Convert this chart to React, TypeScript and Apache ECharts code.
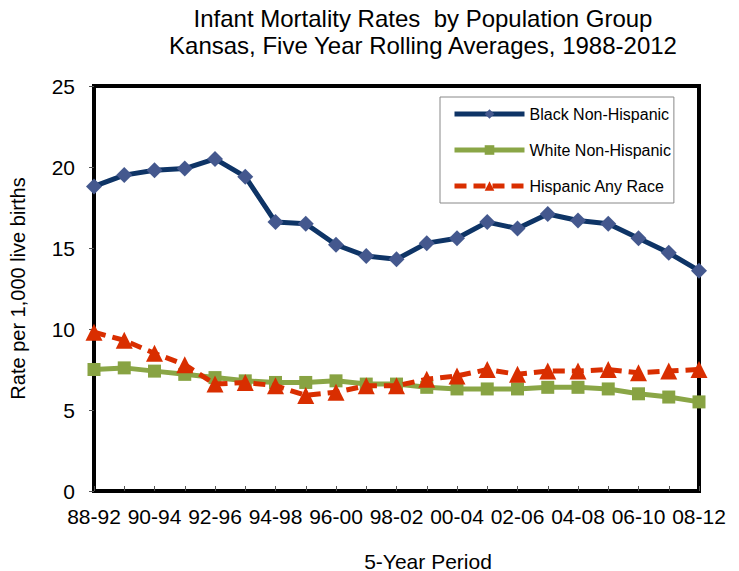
import React, { useEffect, useRef } from "react";
import * as echarts from "echarts";

const categories = [
  "88-92", "89-93", "90-94", "91-95", "92-96", "93-97", "94-98", "95-99", "96-00", "97-01",
  "98-02", "99-03", "00-04", "01-05", "02-06", "03-07", "04-08", "05-09", "06-10", "07-11", "08-12",
];
const blackNonHispanic = [18.8, 19.5, 19.8, 19.9, 20.5, 19.4, 16.6, 16.5, 15.2, 14.5, 14.3, 15.3, 15.6, 16.6, 16.2, 17.1, 16.7, 16.5, 15.6, 14.7, 13.6];
const whiteNonHispanic = [7.5, 7.6, 7.4, 7.2, 7.0, 6.8, 6.7, 6.7, 6.8, 6.6, 6.6, 6.4, 6.3, 6.3, 6.3, 6.4, 6.4, 6.3, 6.0, 5.8, 5.5];
const hispanicAnyRace = [9.8, 9.3, 8.5, 7.8, 6.6, 6.7, 6.5, 5.9, 6.1, 6.5, 6.5, 6.9, 7.1, 7.5, 7.2, 7.4, 7.4, 7.5, 7.3, 7.4, 7.5];
const seriesNames = ["Black Non-Hispanic", "White Non-Hispanic", "Hispanic Any Race"];
const titleLines = ["Infant Mortality Rates  by Population Group", "Kansas, Five Year Rolling Averages, 1988-2012"];
const yAxisName = "Rate per 1,000 live births";
const xAxisName = "5-Year Period";

const FONT = "'Liberation Sans', Arial, sans-serif";

export default function App() {
  const ref = useRef<HTMLDivElement>(null);
  useEffect(() => {
    if (!ref.current) return;
    const chart = echarts.init(ref.current, undefined, { renderer: "svg" });
    chart.setOption({
      animation: false,
      backgroundColor: "#ffffff",
      textStyle: { fontFamily: FONT },
      title: {
        text: titleLines.join("\n"),
        left: 423,
        top: 5,
        padding: 0,
        textAlign: "center",
        textStyle: { fontFamily: FONT, fontSize: 24, fontWeight: "normal", color: "#000", lineHeight: 27 },
      },
      legend: {
        orient: "vertical",
        left: 440,
        top: 97,
        padding: [9, 3, 9, 12],
        itemWidth: 70,
        itemHeight: 12,
        itemGap: 20,
        borderColor: "#888",
        borderWidth: 1,
        backgroundColor: "#fff",
        lineStyle: { width: 5 },
        textStyle: { fontFamily: FONT, fontSize: 16, color: "#000", lineHeight: 13 },
        data: seriesNames,
      },
      grid: {
        left: 92,
        right: 40,
        top: 86,
        bottom: 80,
        show: true,
        borderColor: "#000",
        borderWidth: 4,
        backgroundColor: "transparent",
      },
      xAxis: {
        type: "category",
        data: categories,
        boundaryGap: false,
        axisLine: { show: true, lineStyle: { color: "#000", width: 4 } },
        axisTick: { show: true, interval: 0, inside: true, length: 5, lineStyle: { color: "#555", width: 1 } },
        axisLabel: { interval: 1, fontSize: 21, color: "#000", margin: 15, fontFamily: FONT },
        splitLine: { show: false },
      },
      yAxis: {
        type: "value",
        min: 0,
        max: 25,
        interval: 5,
        name: yAxisName,
        nameLocation: "middle",
        nameGap: 66,
        nameTextStyle: { fontSize: 20, color: "#000", fontFamily: FONT },
        axisLine: { show: true, lineStyle: { color: "#000", width: 4 } },
        axisTick: { show: true, length: 5, lineStyle: { color: "#555", width: 1 } },
        axisLabel: { fontSize: 21, color: "#000", margin: 19, fontFamily: FONT },
        splitLine: { show: false },
      },
      graphic: [
        {
          type: "text",
          x: 428,
          y: 561,
          style: {
            text: xAxisName,
            fontSize: 21,
            fontFamily: FONT,
            fill: "#000",
            align: "center",
            verticalAlign: "middle",
          },
        },
      ],
      series: [
        {
          name: seriesNames[0],
          type: "line",
          data: blackNonHispanic,
          symbol: "diamond",
          symbolSize: 16,
          lineStyle: { color: "#0E3466", width: 5 },
          itemStyle: { color: "#44588E" },
          z: 3,
        },
        {
          name: seriesNames[1],
          type: "line",
          data: whiteNonHispanic,
          symbol: "rect",
          symbolSize: 13,
          lineStyle: { color: "#8AA646", width: 5 },
          itemStyle: { color: "#88A343" },
          z: 2,
        },
        {
          name: seriesNames[2],
          type: "line",
          data: hispanicAnyRace,
          symbol: "triangle",
          symbolSize: 17,
          lineStyle: { color: "#D92E00", width: 5, type: [12, 7] },
          itemStyle: { color: "#D92E00" },
          z: 4,
        },
      ],
    });
    return () => chart.dispose();
  }, []);
  return <div ref={ref} style={{ width: 739, height: 571, position: "absolute", left: 0, top: 0 }} />;
}
